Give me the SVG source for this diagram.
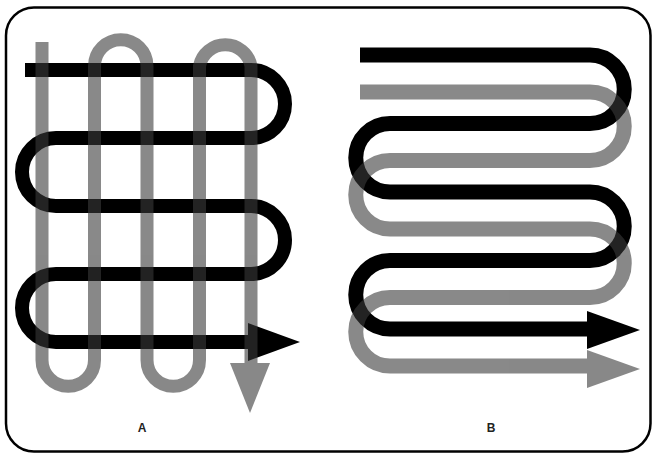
<svg xmlns="http://www.w3.org/2000/svg" width="652" height="453" viewBox="0 0 652 453">
<style>
.frame{fill:#fff;stroke:#000;stroke-width:2.5}
.blk{fill:none;stroke:#000;stroke-linejoin:round}
.gry{fill:none;stroke:#3a3a3a;stroke-linejoin:round}
.gryg{opacity:0.6}
.lbl{font-family:"Liberation Sans",Arial,sans-serif;font-size:12px;font-weight:bold;fill:#222;text-anchor:middle}
</style>
<rect class="frame" x="6" y="7.5" width="644.5" height="444" rx="28" ry="28"/>
<g id="panelA">
  <g id="A-black">
    <path class="blk" stroke-width="14" d="M25,70 H251 A34,34 0 0 1 251,138 H56 A34,34 0 0 0 56,206 H251 A34,34 0 0 1 251,274 H56 A34,34 0 0 0 56,342 H252"/>
    <polygon points="248,323 300,342 248,361" fill="#000"/>
  </g>
  <g id="A-gray" class="gryg">
    <path class="gry" stroke-width="13" d="M42,42 V360 A26.25,26.25 0 0 0 94.5,360 V66 A26.25,26.25 0 0 1 147,66 V360 A26.25,26.25 0 0 0 199.5,360 V66 A26.25,26.25 0 0 1 251,66 V366"/>
    <polygon points="230,363 270,363 250,413" fill="#3a3a3a"/>
  </g>
  <text class="lbl" x="142" y="432">A</text>
</g>
<g id="panelB">
  <g id="B-black">
    <path class="blk" stroke-width="15" d="M360,55 H590 A34.25,34.25 0 0 1 590,123.5 H390 A34.25,34.25 0 0 0 390,192 H590 A34.25,34.25 0 0 1 590,260.5 H390 A34.25,34.25 0 0 0 390,329 H590"/>
    <polygon points="587,311 640,330 587,349" fill="#000"/>
  </g>
  <g id="B-gray" class="gryg">
    <path class="gry" stroke-width="15" d="M360,92 H590 A34.25,34.25 0 0 1 590,160.5 H390 A34.25,34.25 0 0 0 390,229 H590 A34.25,34.25 0 0 1 590,297.5 H390 A34.25,34.25 0 0 0 390,366 H590"/>
    <polygon points="587,350 640,369 587,388" fill="#3a3a3a"/>
  </g>
  <text class="lbl" x="491" y="432">B</text>
</g>
</svg>
